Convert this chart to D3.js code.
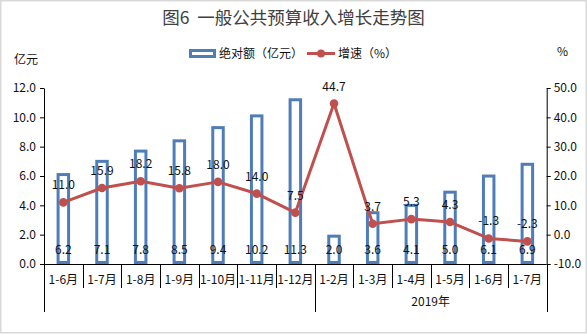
<!DOCTYPE html>
<html>
<head>
<meta charset="utf-8">
<script src="https://cdn.jsdelivr.net/npm/d3@7"></script>
<style>
  html, body { margin: 0; padding: 0; background: #fff; }
  svg { display: block; font-family: "Noto Sans CJK SC", "Microsoft YaHei", sans-serif; }
</style>
</head>
<body>
<svg id="chart" width="587" height="334"></svg>
<script>
// Period labels along the category axis
const categories = ["1-6月", "1-7月", "1-8月", "1-9月", "1-10月", "1-11月", "1-12月",
                    "1-2月", "1-3月", "1-4月", "1-5月", "1-6月", "1-7月"];
// Cumulative revenue (亿元), bars on the left axis
const amounts = [6.2, 7.1, 7.8, 8.5, 9.4, 10.2, 11.3, 2.0, 3.6, 4.1, 5.0, 6.1, 6.9];
// Year-on-year growth (%), line on the right axis
const growth = [11.0, 15.9, 18.2, 15.8, 18.0, 14.0, 7.5, 44.7, 3.7, 5.3, 4.3, -1.3, -2.3];
// Axis ticks
const leftTicks = [0, 2, 4, 6, 8, 10, 12];
const rightTicks = [-10, 0, 10, 20, 30, 40, 50];
// Second-level grouping under the category axis
const groupLabels = ["2019年"];
const groupStarts = [7];

const svg = d3.select("#chart");
const W = 587, H = 334;
const plot = { left: 44, right: 546.7, top: 88, bottom: 264 };
const BAR_BLUE = "#4f7db8";
const LINE_RED = "#c0504d";
const fmt = v => v.toFixed(1);

// outer frame
svg.append("rect")
  .attr("x", 0.75).attr("y", 0.75).attr("width", W - 1.5).attr("height", H - 2)
  .attr("fill", "#fff").attr("stroke", "#d9d9d9").attr("stroke-width", 1.5);

// title
svg.append("text")
  .attr("x", W / 2).attr("y", 24)
  .attr("text-anchor", "middle")
  .attr("font-size", 17.5).attr("fill", "#404040")
  .style("white-space", "pre")
  .text("图6  一般公共预算收入增长走势图");

// scales
const x = d3.scaleBand().domain(d3.range(categories.length))
  .range([plot.left, plot.right]).paddingInner(0).paddingOuter(0);
const yL = d3.scaleLinear().domain([0, 12]).range([plot.bottom, plot.top]);
const yR = d3.scaleLinear().domain([-10, 50]).range([plot.bottom, plot.top]);
const cx = i => x(i) + x.bandwidth() / 2;

// bars: white fill, thick blue outline
const barW = 10.5, sw = 3;
svg.append("g").selectAll("rect").data(amounts).join("rect")
  .attr("x", (d, i) => cx(i) - barW / 2)
  .attr("y", d => yL(d) + sw / 2)
  .attr("width", barW)
  .attr("height", d => plot.bottom - yL(d) - sw)
  .attr("fill", "#fff")
  .attr("stroke", BAR_BLUE)
  .attr("stroke-width", sw);

// growth line
const line = d3.line().x((d, i) => cx(i)).y(d => yR(d));
svg.append("path").datum(growth)
  .attr("d", line)
  .attr("fill", "none").attr("stroke", LINE_RED)
  .attr("stroke-width", 3).attr("stroke-linejoin", "round");
svg.append("g").selectAll("circle").data(growth).join("circle")
  .attr("cx", (d, i) => cx(i)).attr("cy", d => yR(d)).attr("r", 4.3)
  .attr("fill", LINE_RED);

// bar value labels, near the base
svg.append("g").selectAll("text").data(amounts).join("text")
  .attr("x", (d, i) => cx(i)).attr("y", 254)
  .attr("text-anchor", "middle").attr("font-size", 12).attr("fill", "#111")
  .text(fmt);

// growth value labels, above each point
svg.append("g").selectAll("text").data(growth).join("text")
  .attr("x", (d, i) => cx(i)).attr("y", d => yR(d) - 13)
  .attr("text-anchor", "middle").attr("font-size", 12).attr("fill", "#111")
  .text(fmt);

// left axis
const gL = svg.append("g").attr("transform", `translate(${plot.left},0)`)
  .call(d3.axisLeft(yL).tickValues(leftTicks).tickFormat(fmt)
    .tickSize(4).tickSizeOuter(0).tickPadding(4));
// right axis
const gR = svg.append("g").attr("transform", `translate(${plot.right},0)`)
  .call(d3.axisRight(yR).tickValues(rightTicks).tickFormat(fmt)
    .tickSize(4).tickSizeOuter(0).tickPadding(3));
[gL, gR].forEach(g => {
  g.selectAll("path, line").attr("stroke", "#000");
  g.selectAll("text").attr("font-size", 12).attr("fill", "#111")
    .attr("font-family", "\"Noto Sans CJK SC\", sans-serif");
});

// category axis baseline
svg.append("line")
  .attr("x1", plot.left).attr("x2", plot.right)
  .attr("y1", plot.bottom + 0.5).attr("y2", plot.bottom + 0.5)
  .attr("stroke", "#000");

// category separators; group boundaries run deeper
const bounds = d3.range(categories.length + 1);
const groupBounds = new Set([0, ...groupStarts, categories.length]);
svg.append("g").selectAll("line").data(bounds).join("line")
  .attr("x1", i => Math.round(plot.left + i * x.step()) + 0.5)
  .attr("x2", i => Math.round(plot.left + i * x.step()) + 0.5)
  .attr("y1", plot.bottom)
  .attr("y2", i => groupBounds.has(i) ? 312 : 288)
  .attr("stroke", "#000");

// category labels
svg.append("g").selectAll("text").data(categories).join("text")
  .attr("x", (d, i) => cx(i)).attr("y", 284)
  .attr("text-anchor", "middle").attr("font-size", 12).attr("fill", "#111")
  .text(d => d);

// group label
svg.append("g").selectAll("text").data(groupLabels).join("text")
  .attr("x", (d, i) => (x(groupStarts[i]) + plot.right) / 2)
  .attr("y", 306)
  .attr("text-anchor", "middle").attr("font-size", 12).attr("fill", "#111")
  .text(d => d);

// axis unit captions
svg.append("text").attr("x", 14).attr("y", 64)
  .attr("font-size", 12).attr("fill", "#111").text("亿元");
svg.append("text").attr("x", 557).attr("y", 56)
  .attr("font-size", 12).attr("fill", "#111").text("%");

// legend
const lg = svg.append("g");
lg.append("rect").attr("x", 190.5).attr("y", 50.5).attr("width", 24).attr("height", 6)
  .attr("fill", "#fff").attr("stroke", BAR_BLUE).attr("stroke-width", 3);
lg.append("text").attr("x", 219).attr("y", 58)
  .attr("font-size", 12).attr("fill", "#111").text("绝对额（亿元）");
lg.append("line").attr("x1", 307).attr("x2", 335).attr("y1", 53.5).attr("y2", 53.5)
  .attr("stroke", LINE_RED).attr("stroke-width", 3);
lg.append("circle").attr("cx", 321).attr("cy", 53.5).attr("r", 4).attr("fill", LINE_RED);
lg.append("text").attr("x", 338).attr("y", 58)
  .attr("font-size", 12).attr("fill", "#111").text("增速（%）");
</script>
</body>
</html>
